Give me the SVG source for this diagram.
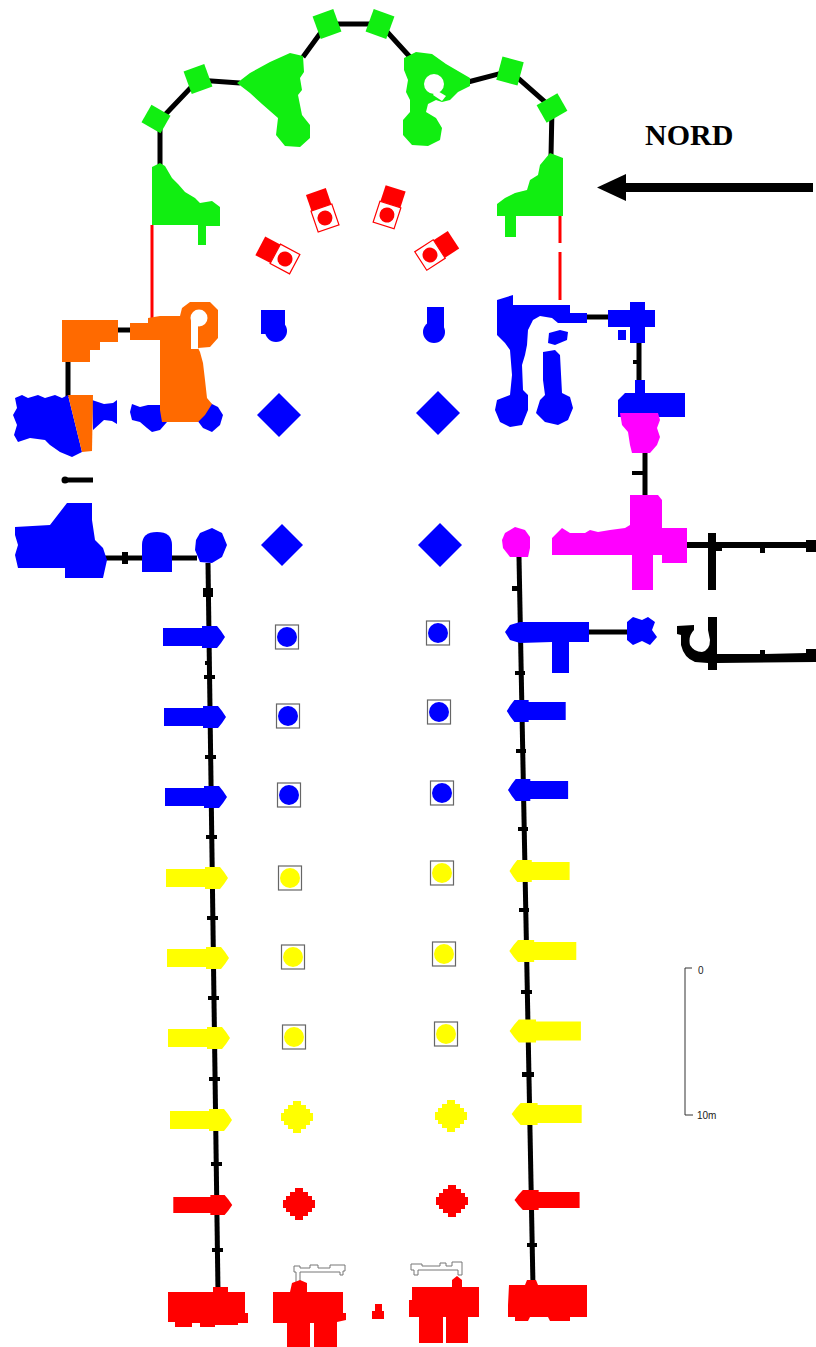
<svg xmlns="http://www.w3.org/2000/svg" width="816" height="1347" viewBox="0 0 816 1347">
<style>
.bl{fill:#0000ff}.gr{fill:#11ee11}.or{fill:#ff6a00}.mg{fill:#ff00ff}.ye{fill:#ffff00}.rd{fill:#ff0000}.bk{fill:#000}
.wall{stroke:#000;stroke-width:5;fill:none}
.rw{stroke:#ff0000;stroke-width:3;fill:none}
.pb{fill:#fff;stroke:#666;stroke-width:1.2}
.ol{fill:#fff;stroke:#777;stroke-width:1}
.cs{fill:#fff;stroke:#ff0000;stroke-width:1.2}
</style>
<defs>
<path id="butt" d="M-46,-9 L-7,-9 L-7,-11 L8,-11 L12,-6 L16,0 L12,6 L8,11 L-7,11 L-7,9 L-46,9 Z"/>
<path id="blob" d="M-4,-16 L4,-16 L4,-12 L9,-12 L9,-8 L13,-8 L13,-4 L16,-4 L16,4 L13,4 L13,8 L9,8 L9,12 L4,12 L4,16 L-4,16 L-4,12 L-9,12 L-9,8 L-13,8 L-13,4 L-16,4 L-16,-4 L-13,-4 L-13,-8 L-9,-8 L-9,-12 L-4,-12 Z"/>
<g id="chapel">
<rect x="-10.5" y="-28" width="21" height="17" fill="#ff0000"/>
<rect x="-11" y="-11" width="22" height="22" class="cs"/>
<circle cx="0" cy="0" r="7.5" fill="#ff0000"/>
</g>
<g id="pier"><rect x="-11.5" y="-12" width="23" height="24" class="pb"/><circle r="10"/></g>
</defs>

<g id="connectors">
<polyline class="wall" stroke-width="4" points="160,165 160,120 198,80 240,83"/>
<polyline class="wall" stroke-width="4" points="303,57 327,24 380,24 410,57"/>
<polyline class="wall" stroke-width="4" points="468,82 510,71 552,108 551,156"/>
<line class="rw" x1="152" y1="225" x2="152" y2="318"/>
<line class="rw" x1="560" y1="216" x2="560" y2="243"/>
<line class="rw" x1="560" y1="252" x2="560" y2="300"/>
<line class="wall" stroke-width="4" x1="118" y1="330" x2="131" y2="330"/>
<line class="wall" stroke-width="4" x1="68" y1="360" x2="68" y2="397"/>
<line class="wall" x1="66" y1="480" x2="93" y2="480"/>
<circle cx="65" cy="480" r="3.5" class="bk"/>
<line class="wall" stroke-width="4" x1="105" y1="558" x2="197" y2="558"/>
<rect x="122" y="552" width="6" height="12" class="bk"/>
<line class="wall" stroke-width="4" x1="586" y1="317" x2="609" y2="317"/>
<line class="wall" stroke-width="4" x1="639" y1="342" x2="639" y2="382"/>
<rect x="633" y="360" width="6" height="4" class="bk"/>
<line class="wall" stroke-width="4" x1="645" y1="452" x2="645" y2="497"/>
<rect x="632" y="471" width="13" height="4" class="bk"/>
<line class="wall" stroke-width="4" x1="587" y1="632" x2="628" y2="632" stroke="#0000ff"/>
<rect x="686" y="542" width="130" height="6" class="bk"/>
<rect x="708" y="533" width="8" height="57" class="bk"/>
<rect x="716" y="545" width="6" height="6" class="bk"/>
<rect x="760" y="545" width="5" height="8" class="bk"/>
<rect x="806" y="540" width="10" height="12" class="bk"/>
<path class="bk" d="M677,626 L694,625 L694,630 Q688,636 690,645 Q694,652 702,652 Q710,650 710,640 L708,630 L708,617 L717,617 L717,654 L760,654 L760,650 L765,650 L765,654 L806,653 L806,649 L816,649 L816,662 L717,663 L717,670 L708,670 L708,663 L695,662 Q684,658 681,645 L681,635 L677,634 Z"/>
<line class="wall" x1="208" y1="563" x2="218" y2="1292"/>
<line class="wall" x1="519" y1="557" x2="533" y2="1287"/>
<g class="bk">
<rect x="203" y="588" width="10" height="9"/>
<rect x="205" y="661" width="6" height="4"/>
<rect x="204" y="675" width="11" height="4"/>
<rect x="205" y="755" width="11" height="4"/>
<rect x="206" y="835" width="11" height="4"/>
<rect x="207" y="916" width="11" height="4"/>
<rect x="208" y="996" width="11" height="4"/>
<rect x="209" y="1077" width="11" height="4"/>
<rect x="211" y="1162" width="11" height="4"/>
<rect x="212" y="1248" width="11" height="4"/>
<rect x="512" y="586" width="8" height="5"/>
<rect x="515" y="671" width="10" height="4"/>
<rect x="516" y="749" width="10" height="4"/>
<rect x="518" y="827" width="10" height="4"/>
<rect x="519" y="908" width="10" height="4"/>
<rect x="521" y="990" width="11" height="4"/>
<rect x="522" y="1072" width="12" height="5"/>
<rect x="527" y="1243" width="10" height="4"/>
</g>
</g>

<g id="chevet">
<path class="gr" d="M160,163 L165,166 L172,178 L178,184 L185,192 L195,198 L200,203 L212,201 L220,207 L220,226 L206,226 L206,245 L198,245 L198,225 L152,225 L152,167 Z"/>
<rect class="gr" x="-11" y="-10" width="22" height="20" transform="translate(156,119) rotate(30)"/>
<rect class="gr" x="-11" y="-12" width="22" height="24" transform="translate(198,79) rotate(-20)"/>
<path class="gr" d="M237,83 L250,73 L270,62 L290,53 L303,56 L304,72 L300,78 L302,90 L298,95 L300,105 L302,115 L310,125 L310,138 L300,147 L285,146 L276,135 L278,118 L262,104 L250,93 Z"/>
<rect class="gr" x="-11" y="-12" width="22" height="24" transform="translate(327,24) rotate(-20)"/>
<rect class="gr" x="-11" y="-12" width="22" height="24" transform="translate(380,24) rotate(20)"/>
<path class="gr" d="M404,58 L416,52 L432,54 L446,64 L470,78 L470,86 L458,92 L450,100 L442,102 L436,100 L428,104 L426,112 L436,118 L442,128 L440,140 L428,146 L412,145 L403,135 L403,120 L410,112 L410,100 L406,92 L408,80 L404,70 Z"/>
<circle cx="434" cy="84" r="10" fill="#fff"/>
<path d="M436,90 L446,96 L442,101 L433,95 Z" fill="#fff"/>
<rect class="gr" x="-11" y="-12" width="22" height="24" transform="translate(510,71) rotate(15)"/>
<rect class="gr" x="-12" y="-10" width="24" height="20" transform="translate(552,108) rotate(-30)"/>
<path class="gr" d="M550,153 L563,158 L563,216 L516,216 L516,237 L505,237 L505,216 L497,216 L497,204 L505,198 L515,193 L527,190 L530,180 L538,175 L540,165 Z"/>
</g>

<g id="chapels">
<use href="#chapel" transform="translate(285,259) rotate(-62)"/>
<use href="#chapel" transform="translate(325,218) rotate(-19)"/>
<use href="#chapel" transform="translate(387,215) rotate(18)"/>
<use href="#chapel" transform="translate(430,255) rotate(57)"/>
</g>

<g id="north-transept">
<path class="bl" d="M15,398 L22,395 L28,398 L38,395 L45,398 L55,395 L62,398 L68,395 L82,452 L72,457 L60,452 L50,445 L45,440 L30,438 L18,442 L14,435 L17,425 L13,415 L17,408 Z"/>
<path class="bl" d="M92,400 L104,404 L113,403 L117,400 L117,424 L112,421 L104,420 L93,430 Z"/>
<path class="bl" d="M132,404 L140,407 L148,405 L162,405 L162,411 L167,422 L160,430 L152,432 L147,428 L140,422 L132,420 L130,412 Z"/>
<path class="bl" d="M210,403 L218,407 L223,415 L220,425 L212,432 L203,428 L197,420 L200,410 Z"/>
<path class="or" d="M62,320 L118,320 L118,342 L100,342 L100,350 L90,350 L90,362 L62,362 Z"/>
<path class="or" d="M130,323 L148,323 L148,318 L160,316 L180,316 L182,308 L190,302 L210,302 L218,310 L218,338 L210,347 L198,348 L200,352 L203,363 L205,380 L207,398 L212,404 L205,415 L198,422 L162,422 L160,410 L160,340 L130,340 Z"/>
<circle cx="199" cy="318" r="8.5" fill="#fff"/>
<rect x="191" y="318" width="7" height="31" fill="#fff"/>
<path class="or" d="M68,395 L93,395 L92,451 L82,452 Z"/>
<path class="bl" d="M15,527 L50,525 L67,503 L92,503 L92,520 L95,540 L103,548 L107,560 L103,578 L65,578 L65,568 L18,568 L15,555 L18,545 L15,535 Z"/>
<path class="bl" d="M142,545 Q142,532 157,532 Q172,532 172,545 L172,572 L142,572 Z"/>
<path class="bl" d="M200,533 L212,528 L222,533 L227,545 L222,557 L212,563 L200,562 L195,550 L196,540 Z"/>
</g>

<g id="crossing">
<rect class="bl" x="261" y="310" width="24" height="24"/>
<circle class="bl" cx="276" cy="331" r="11"/>
<rect class="bl" x="427" y="307" width="17" height="25"/>
<circle class="bl" cx="434" cy="332" r="11"/>
<path class="bl" d="M279,393 L301,415 L279,437 L257,415 Z"/>
<path class="bl" d="M282,524 L303,545 L282,566 L261,545 Z"/>
<path class="bl" d="M438,391 L460,413 L438,435 L416,413 Z"/>
<path class="bl" d="M440,523 L462,545 L440,567 L418,545 Z"/>
</g>

<g id="south-transept">
<path class="bl" d="M497,300 L513,295 L513,305 L570,305 L570,313 L587,313 L587,323 L558,323 L552,318 L540,316 L533,320 L528,330 L527,345 L525,355 L522,365 L523,390 L528,395 L528,410 L522,425 L510,427 L500,422 L495,410 L497,400 L510,395 L512,375 L510,350 L505,343 L497,335 Z"/>
<path class="bl" d="M543,352 L555,350 L560,355 L562,393 L570,397 L573,408 L568,420 L558,425 L545,422 L536,413 L540,400 L545,395 L543,380 Z"/>
<path class="bl" d="M549,333 L560,330 L568,332 L567,340 L555,345 L548,343 Z"/>
<path class="bl" d="M608,310 L630,310 L630,302 L645,302 L645,310 L655,310 L655,327 L645,327 L645,343 L630,343 L630,327 L608,327 Z"/>
<rect class="bl" x="618" y="330" width="8" height="10"/>
<path class="bl" d="M635,380 L645,380 L645,393 L685,393 L685,417 L618,417 L618,400 L625,393 L635,393 Z"/>
<path class="mg" d="M620,413 L658,413 L660,420 L657,428 L660,437 L657,445 L650,453 L632,453 L630,445 L628,432 L622,425 Z"/>
<path class="mg" d="M630,495 L658,495 L662,500 L662,528 L687,528 L687,563 L662,563 L662,555 L653,555 L653,590 L632,590 L632,555 L552,555 L552,538 L562,528 L570,533 L585,533 L590,530 L598,532 L610,530 L625,528 L630,525 Z"/>
<path class="mg" d="M505,533 L515,527 L525,530 L530,537 L530,548 L528,557 L510,557 L503,548 L502,540 Z"/>
<path class="bl" d="M505,632 L510,625 L520,622 L589,622 L589,642 L569,642 L569,673 L552,673 L552,642 L520,643 L510,640 Z"/>
<path class="bl" d="M627,622 L633,617 L642,620 L648,617 L655,622 L652,630 L657,637 L650,645 L642,641 L633,645 L627,640 Z"/>
</g>

<g id="north-aisle">
<use href="#butt" class="bl" transform="translate(209,637)"/>
<use href="#butt" class="bl" transform="translate(210,717)"/>
<use href="#butt" class="bl" transform="translate(211,797)"/>
<use href="#butt" class="ye" transform="translate(212,878)"/>
<use href="#butt" class="ye" transform="translate(213,958)"/>
<use href="#butt" class="ye" transform="translate(214,1038)"/>
<use href="#butt" class="ye" transform="translate(216,1120)"/>
<use href="#butt" class="rd" transform="translate(217,1205) scale(0.95,0.9)"/>
</g>

<g id="south-aisle">
<use href="#butt" class="bl" transform="translate(522,711) scale(-0.95,1)"/>
<use href="#butt" class="bl" transform="translate(523.5,790) scale(-0.97,1)"/>
<use href="#butt" class="ye" transform="translate(525,871) scale(-0.97,1)"/>
<use href="#butt" class="ye" transform="translate(526.6,951) scale(-1.08,1)"/>
<use href="#butt" class="ye" transform="translate(528,1031) scale(-1.15,1.05)"/>
<use href="#butt" class="ye" transform="translate(529.7,1114) scale(-1.13,1)"/>
<use href="#butt" class="rd" transform="translate(531.3,1200) scale(-1.05,0.9)"/>
</g>

<g id="nave-piers">
<use href="#pier" fill="#0000ff" transform="translate(287,637)"/>
<use href="#pier" fill="#0000ff" transform="translate(288,716)"/>
<use href="#pier" fill="#0000ff" transform="translate(289,795)"/>
<use href="#pier" fill="#0000ff" transform="translate(438,633)"/>
<use href="#pier" fill="#0000ff" transform="translate(439,712)"/>
<use href="#pier" fill="#0000ff" transform="translate(442,793)"/>
<use href="#pier" fill="#ffff00" transform="translate(290,878)"/>
<use href="#pier" fill="#ffff00" transform="translate(293,957)"/>
<use href="#pier" fill="#ffff00" transform="translate(294,1037)"/>
<use href="#pier" fill="#ffff00" transform="translate(442,873)"/>
<use href="#pier" fill="#ffff00" transform="translate(444,954)"/>
<use href="#pier" fill="#ffff00" transform="translate(446,1034)"/>
<use href="#blob" class="ye" transform="translate(297,1117)"/>
<use href="#blob" class="ye" transform="translate(451,1116)"/>
<use href="#blob" class="rd" transform="translate(299,1204)"/>
<use href="#blob" class="rd" transform="translate(452,1201)"/>
</g>

<g id="facade">
<path class="ol" d="M294,1266 L300,1266 L300,1268 L310,1268 L310,1265 L318,1265 L318,1268 L330,1268 L330,1265 L345,1265 L345,1271 L343,1271 L343,1275 L340,1275 L340,1272 L300,1272 L300,1283 L296,1283 L296,1272 L294,1272 Z"/>
<path class="ol" d="M411,1264 L422,1264 L422,1266 L440,1266 L440,1263 L446,1263 L446,1266 L452,1266 L452,1262 L462,1262 L462,1275 L458,1275 L458,1270 L418,1270 L418,1275 L414,1275 L414,1270 L411,1270 Z"/>
<path class="rd" d="M168,1292 L213,1292 L213,1287 L228,1287 L228,1292 L245,1292 L245,1313 L248,1313 L248,1323 L238,1323 L238,1325 L215,1325 L215,1327 L200,1327 L200,1323 L192,1323 L192,1327 L175,1327 L175,1322 L168,1322 Z"/>
<path class="rd" d="M273,1292 L290,1292 L292,1283 L300,1280 L307,1283 L307,1292 L343,1292 L343,1313 L346,1313 L346,1320 L337,1322 L337,1347 L314,1347 L314,1323 L310,1323 L310,1347 L287,1347 L287,1323 L273,1323 Z"/>
<path class="rd" d="M375,1304 L382,1304 L382,1311 L384,1311 L384,1319 L372,1319 L372,1311 L375,1311 Z"/>
<path class="rd" d="M409,1300 L412,1300 L412,1287 L452,1287 L452,1280 L457,1276 L462,1280 L462,1287 L479,1287 L479,1317 L468,1317 L468,1343 L446,1343 L446,1317 L443,1317 L443,1343 L419,1343 L419,1317 L409,1317 Z"/>
<path class="rd" d="M509,1285 L525,1285 L527,1280 L536,1280 L538,1285 L587,1285 L587,1317 L570,1317 L570,1321 L550,1321 L548,1317 L530,1317 L528,1321 L515,1321 L515,1317 L508,1317 L508,1305 Z"/>
</g>

<g id="north-arrow">
<text x="645" y="145" font-family="Liberation Serif, serif" font-weight="bold" font-size="30">NORD</text>
<rect x="622" y="183" width="191" height="9" class="bk"/>
<polygon points="597,187.5 626,174 626,201" class="bk"/>
</g>

<g id="scale">
<polyline points="692,968 685,968 685,1115 693,1115" fill="none" stroke="#333" stroke-width="1"/>
<text x="698" y="974" font-family="Liberation Sans, sans-serif" font-size="10" fill="#222">0</text>
<text x="697" y="1119" font-family="Liberation Sans, sans-serif" font-size="10" fill="#222">10m</text>
</g>
</svg>
